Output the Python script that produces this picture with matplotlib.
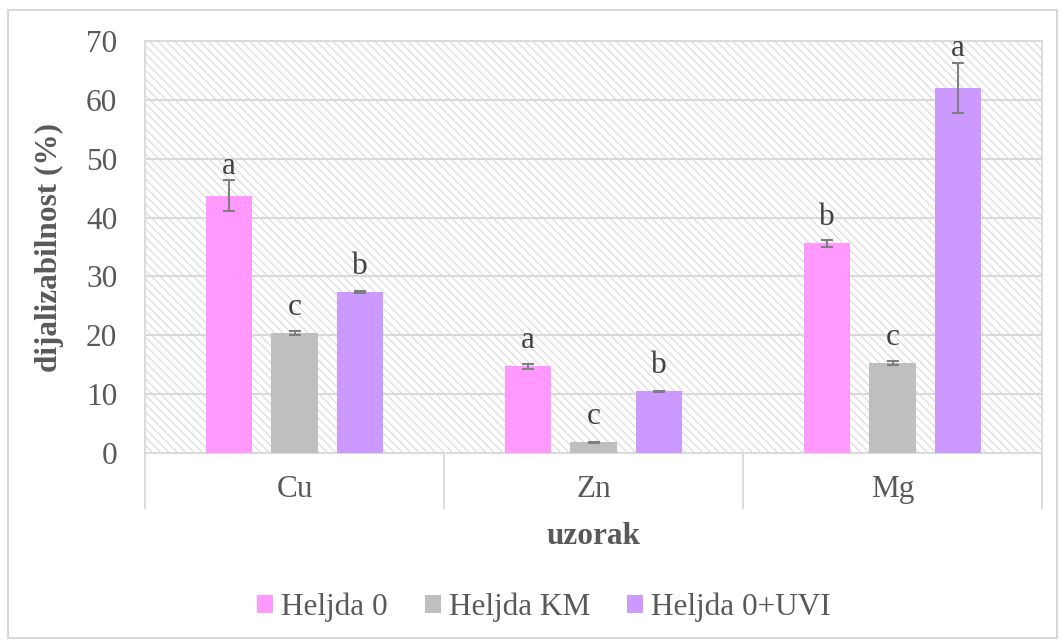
import numpy as np
import matplotlib
matplotlib.use("Agg")
import matplotlib.pyplot as plt
from matplotlib.patches import Rectangle

# data
categories = ["Cu", "Zn", "Mg"]
series = ["Heljda 0", "Heljda KM", "Heljda 0+UVI"]
values = {
    "Heljda 0": [43.7, 14.7, 35.6],
    "Heljda KM": [20.4, 1.8, 15.3],
    "Heljda 0+UVI": [27.4, 10.5, 62.0],
}
errors = {
    "Heljda 0": [2.6, 0.4, 0.6],
    "Heljda KM": [0.3, 0.1, 0.3],
    "Heljda 0+UVI": [0.2, 0.1, 4.3],
}
letters = {
    "Heljda 0": ["a", "a", "b"],
    "Heljda KM": ["c", "c", "c"],
    "Heljda 0+UVI": ["b", "b", "a"],
}
colors = ["#FF99FF", "#BFBFBF", "#CC99FF"]

plt.rcParams["font.family"] = ["Liberation Serif", "DejaVu Serif"]
plt.rcParams["hatch.color"] = "#D9D9D9"
plt.rcParams["hatch.linewidth"] = 0.8

grid_col = "#D9D9D9"
txt_col = "#595959"
fs = 22.5

fig = plt.figure(figsize=(10.61, 6.43), dpi=100)
ax = fig.add_axes([145 / 1061, 190 / 643, 897 / 1061, 412 / 643])

# hatched plot area background
ax.add_patch(Rectangle((0, 0), 1, 1, transform=ax.transAxes, facecolor="white",
                       edgecolor=grid_col, hatch="\\\\\\\\", linewidth=0, zorder=0))

x = np.arange(len(categories))
width = 0.154
offsets = [-0.22, 0, 0.22]
for i, s in enumerate(series):
    xs = x + offsets[i]
    ax.bar(xs, values[s], width, color=colors[i], label=s, zorder=3)
    ax.errorbar(xs, values[s], yerr=errors[s], fmt="none", ecolor="#7F7F7F",
                elinewidth=1.5, capsize=4.5, capthick=1.5, zorder=4)
    for xi, v, e, l in zip(xs, values[s], errors[s], letters[s]):
        # letters sit above the error bar when it is large, else above the bar
        if e > 1:
            y, off = v + e, 5
        else:
            y, off = v, 13
        ax.annotate(l, (xi, y), xytext=(0, off), textcoords="offset points",
                    ha="center", va="baseline", fontsize=fs, color="#404040", zorder=5)

ax.set_xlim(-0.5, 2.5)
ax.set_ylim(0, 70)
ax.set_yticks(range(0, 71, 10))
ax.yaxis.grid(True, color=grid_col, linewidth=1.5, zorder=1)
ax.set_axisbelow(True)

ax.set_xticks(x)
ax.set_xticklabels(categories)
ax.set_xticks([-0.5, 0.5, 1.5, 2.5], minor=True)
ax.tick_params(axis="x", which="major", length=0, pad=16, labelsize=fs, labelcolor=txt_col)
ax.tick_params(axis="x", which="minor", length=40, width=1.3, color=grid_col, direction="out")
ax.tick_params(axis="y", length=0, pad=20, labelsize=fs, labelcolor=txt_col)

for sp in ax.spines.values():
    sp.set_color(grid_col)
    sp.set_linewidth(1.3)

ax.set_xlabel("uzorak", fontsize=fs, fontweight="bold", color=txt_col, labelpad=6)
ax.set_ylabel("dijalizabilnost (%)", fontsize=fs, fontweight="bold", color=txt_col, labelpad=16)

ax.legend(loc="center", bbox_to_anchor=(544 / 1061, 36 / 643), bbox_transform=fig.transFigure,
          ncol=3, frameon=False, fontsize=fs, handlelength=0.51, handleheight=0.51,
          handletextpad=0.26, columnspacing=1.18, labelcolor=txt_col)

# outer chart border
fig.patches.append(Rectangle((8 / 1061, 5 / 643), 1049 / 1061, 628 / 643,
                             transform=fig.transFigure, fill=False,
                             edgecolor=grid_col, linewidth=1.5))

fig.savefig("out.png", dpi=100)
